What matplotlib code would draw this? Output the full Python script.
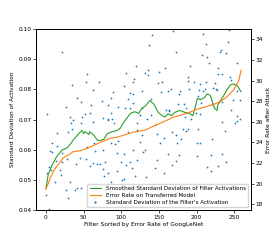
import numpy as np
import matplotlib
matplotlib.use('Agg')
import matplotlib.pyplot as plt

# std dev of each filter's activation (scatter)
filter_idx = [21, 55, 53, 35, 41, 46, 60, 27, 1, 32, 48, 52, 58, 36,
              120, 106, 132, 117, 116, 71, 104, 63, 89, 112, 128, 86, 116, 74, 109, 82, 115, 96, 105, 111, 128, 86, 76, 83, 88, 125,
              141, 168, 137, 173, 191, 136, 135, 150, 158, 189, 189, 197, 149, 154, 166, 162, 153, 178, 177, 190, 203, 175, 183, 186, 164, 163, 199, 134, 140,
              209, 243, 213, 241, 207, 233, 231, 214, 217, 239, 253, 229, 228, 244, 246, 205, 213, 224, 222, 227, 208, 202, 253, 258, 248, 206, 221, 234, 246, 253, 257,
              140, 159, 211, 226, 234, 204, 193, 184,
              15, 29, 8, 5, 8, 15, 22, 28, 13, 22, 4, 7, 1, 19, 20, 12, 32, 27, 41, 46, 39, 29, 0, 4,
              33, 35, 47, 40, 45, 53, 58, 64, 63, 68, 72, 76, 83, 86, 99, 111, 94, 95, 55, 65, 86, 94, 104, 109, 64, 72, 94, 104, 113, 104,
              79, 76, 92, 106, 114, 121, 115, 125, 129, 77, 101, 118, 79, 85, 127, 62, 83, 90, 121, 127, 121,
              145, 147, 151, 157, 172, 167, 179, 186, 189, 182, 174, 201, 131, 162, 177, 147, 145, 173, 157, 167, 133,
              202, 234, 253, 251, 238, 221, 204, 219, 234, 239, 228, 214, 219, 200]
filter_std = [0.0923, 0.085, 0.0823, 0.0813, 0.0773, 0.0758, 0.0747, 0.074, 0.0717, 0.0707, 0.071, 0.0717, 0.072, 0.070,
              0.0878, 0.0854, 0.0854, 0.0836, 0.0823, 0.0823, 0.0811, 0.0798, 0.0791, 0.0788, 0.0794, 0.0773, 0.0783, 0.0761, 0.0767, 0.0747, 0.0754, 0.0741, 0.0737, 0.0739, 0.0737, 0.0722, 0.0706, 0.0703, 0.0701, 0.0716,
              0.0981, 0.0992, 0.0946, 0.0924, 0.0878, 0.0863, 0.0848, 0.0858, 0.087, 0.084, 0.0827, 0.0826, 0.0821, 0.0823, 0.0801, 0.0794, 0.0792, 0.0794, 0.0786, 0.0802, 0.0797, 0.075, 0.0752, 0.0738, 0.073, 0.0727, 0.0721, 0.0703, 0.0716,
              0.0984, 0.0998, 0.0952, 0.0957, 0.0914, 0.0932, 0.0924, 0.0906, 0.0888, 0.092, 0.0888, 0.087, 0.085, 0.084, 0.0831, 0.0817, 0.0823, 0.0822, 0.0803, 0.0797, 0.0796, 0.0778, 0.0794, 0.0764, 0.0766, 0.0754, 0.0751, 0.0757, 0.073, 0.0711, 0.0703,
              0.0767, 0.0732, 0.0802, 0.080, 0.0852, 0.0719, 0.0702, 0.0708,
              0.0654, 0.0657, 0.0623, 0.0597, 0.0592, 0.0612, 0.059, 0.057, 0.0561, 0.0558, 0.0544, 0.0533, 0.0523, 0.0531, 0.0517, 0.0494, 0.0492, 0.0467, 0.0472, 0.0473, 0.0466, 0.0439, 0.045, 0.0403,
              0.069, 0.067, 0.0688, 0.0552, 0.0574, 0.057, 0.0547, 0.0621, 0.0556, 0.0554, 0.0551, 0.0536, 0.0522, 0.0493, 0.0559, 0.0559, 0.0528, 0.063, 0.0608, 0.0597, 0.0623, 0.0588, 0.0586, 0.066, 0.0441, 0.045, 0.0447, 0.0466, 0.0463, 0.0502,
              0.0559, 0.0598, 0.0618, 0.0548, 0.0539, 0.0566, 0.0598, 0.0624, 0.0592, 0.0514, 0.0501, 0.0514, 0.0467, 0.0464, 0.0464, 0.0692, 0.0698, 0.0687, 0.0664, 0.0648, 0.069,
              0.0681, 0.0653, 0.0623, 0.0639, 0.065, 0.0659, 0.0637, 0.0661, 0.067, 0.0667, 0.0622, 0.0622, 0.0598, 0.0587, 0.0581, 0.0566, 0.0539, 0.0561, 0.0524, 0.0548, 0.0508,
              0.067, 0.0692, 0.0694, 0.069, 0.0661, 0.0637, 0.0623, 0.0583, 0.0587, 0.0559, 0.0546, 0.0541, 0.0528, 0.058]

# smoothed std dev (green line)
smooth_x = [0, 3, 8, 14, 21, 28, 32, 36, 41, 45, 48, 50, 52, 57, 58, 64, 68, 72, 77, 81, 88, 94, 99, 102, 105,
            107, 112, 118, 123, 127, 132, 138, 143, 149, 154, 158, 162, 167, 171, 178, 184, 191, 195, 197,
            201, 205, 210, 214, 218, 221, 224, 227, 228, 232, 236, 240, 245, 249, 254, 259]
smooth_std = [0.047, 0.0517, 0.0548, 0.0576, 0.0598, 0.0606, 0.0617, 0.0631, 0.0646, 0.0657, 0.0664, 0.0653, 0.066, 0.065, 0.066,
              0.0647, 0.0632, 0.063, 0.0635, 0.0652, 0.066, 0.0663, 0.0672, 0.0686, 0.0697,
              0.0703, 0.072, 0.0726, 0.072, 0.0737, 0.0745, 0.0763, 0.0752, 0.0724, 0.0713, 0.0708, 0.0719, 0.0713, 0.0724, 0.073, 0.0724, 0.0719, 0.0713, 0.073,
              0.0770, 0.0766, 0.0772, 0.0785, 0.078, 0.0758, 0.0737, 0.073, 0.0748, 0.0764, 0.078, 0.0798, 0.0815, 0.0818, 0.0812, 0.0792]

# error rate on transferred model (orange line, right axis)
err_x = [0, 3, 6, 10, 14, 19, 23, 30, 36, 45, 54, 60, 72, 85, 94, 103, 116, 132, 143, 156, 165,
         169, 186, 204, 214, 223, 232, 240, 249, 253, 256, 258, 259]
err_rate = [19.5, 20.0, 20.6, 21.2, 21.65, 22.1, 22.5, 22.8, 23.1, 23.2, 23.4, 23.6, 24.0, 24.4, 24.5, 24.7, 25.0, 25.2, 25.6, 26.0, 26.3,
            26.45, 26.8, 27.3, 27.5, 27.7, 28.0, 28.4, 29.1, 29.6, 30.0, 30.7, 31.0]

plt.rcParams['font.family'] = 'DejaVu Sans'
plt.rcParams['font.size'] = 4.2

fig, ax1 = plt.subplots(figsize=(2.8, 2.4), dpi=100)
fig.subplots_adjust(left=0.129, right=0.896, top=0.879, bottom=0.125)
ax2 = ax1.twinx()

sc = ax1.scatter(filter_idx, filter_std, s=1.6, color='#1f77b4', linewidths=0,
                 label="Standard Deviation of the Filter's Activation")
l1, = ax1.plot(smooth_x, smooth_std, color='#2ca02c', lw=0.8,
               label='Smoothed Standard Deviation of Filter Activations')
l2, = ax2.plot(err_x, err_rate, color='#ff7f0e', lw=0.8,
               label='Error Rate on Transferred Model')

ax1.set_ylim(0.04, 0.10)
ax1.set_xlim(-13, 272)
ax2.set_ylim(17.45, 35)
ax2.set_yticks([18, 20, 22, 24, 26, 28, 30, 32, 34])
ax1.set_xticks([0, 50, 100, 150, 200, 250])

ax1.set_xlabel('Filter Sorted by Error Rate of GoogLeNet', labelpad=1.5)
ax1.set_ylabel('Standard Deviation of Activation', labelpad=2)
ax2.set_ylabel('Error Rate after Attack', labelpad=2)

for ax in (ax1, ax2):
    ax.tick_params(length=2, width=0.5, pad=1.5)
    for sp in ax.spines.values():
        sp.set_linewidth(0.7)

ax2.legend(handles=[l1, l2, sc], loc='lower right', fontsize=4.1,
           markerscale=1.3, handlelength=2, borderpad=0.4, labelspacing=0.3,
           framealpha=0.8, edgecolor='#cccccc')

plt.savefig('out.png', dpi=100)
